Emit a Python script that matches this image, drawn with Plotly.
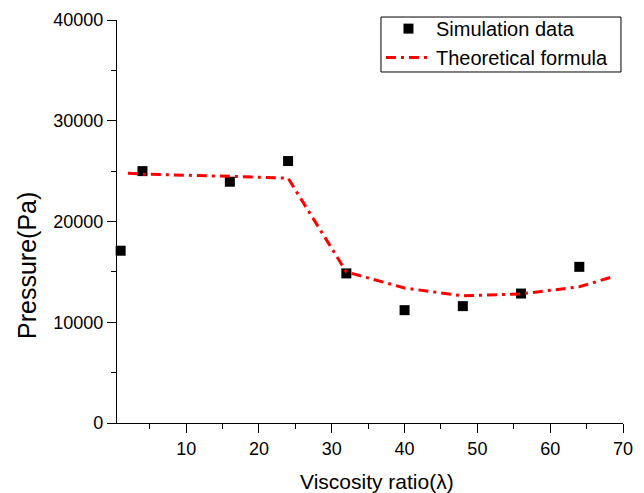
import plotly.graph_objects as go

# Simulation data
sim_lambda = [1, 4, 16, 24, 32, 40, 48, 56, 64]
sim_pressure = [17100, 25000, 23950, 26000, 14850, 11200, 11600, 12850, 15500]

# Theoretical formula
theo_lambda = [2, 4, 16, 24, 32, 40, 48, 56, 64, 68.3]
theo_pressure = [24800, 24700, 24480, 24300, 15000, 13400, 12620, 12820, 13520, 14450]

x_ticks = [10, 20, 30, 40, 50, 60, 70]
y_ticks = [0, 10000, 20000, 30000, 40000]

x_title = "Viscosity ratio(λ)"
y_title = "Pressure(Pa)"

FONT = "Arial, 'Liberation Sans', sans-serif"

fig = go.Figure()
fig.add_trace(go.Scatter(
    x=sim_lambda, y=sim_pressure, mode="markers", name="Simulation data",
    marker=dict(symbol="square", size=10, color="black", line=dict(width=0)),
    cliponaxis=False,
))
fig.add_trace(go.Scatter(
    x=theo_lambda, y=theo_pressure, mode="lines", name="Theoretical formula",
    line=dict(color="#ff0000", width=3, dash="10px,5px,3px,5px"),
))

axis_common = dict(
    showline=True, linecolor="black", linewidth=1.3,
    ticks="outside", ticklen=9, tickwidth=1.3, tickcolor="black",
    showgrid=False, zeroline=False, mirror=False,
    tickfont=dict(family=FONT, size=18, color="black"),
)

fig.update_xaxes(
    range=[0.5, 70], tickvals=x_ticks, tickformat="d",
    minor=dict(dtick=5, tick0=0, ticks="outside", ticklen=5, tickwidth=1.3, tickcolor="black"),
    **axis_common,
)
fig.update_yaxes(
    range=[0, 40000], tickvals=y_ticks, tickformat="d",
    minor=dict(dtick=5000, tick0=0, ticks="outside", ticklen=5, tickwidth=1.3, tickcolor="black"),
    **axis_common,
)

# axis titles (placed like the reference, slightly off-centre)
fig.add_annotation(text=x_title, xref="paper", yref="paper", x=0.514, y=-0.144,
                   xanchor="center", yanchor="middle", showarrow=False,
                   font=dict(family=FONT, size=21, color="black"))
fig.add_annotation(text=y_title, xref="paper", yref="paper", x=-0.178, y=0.392,
                   xanchor="center", yanchor="middle", showarrow=False, textangle=-90,
                   font=dict(family=FONT, size=25, color="black"))

# legend frame
fig.add_shape(type="rect", xref="paper", yref="paper",
              x0=0.5217, x1=0.996, y0=0.871, y1=1.0074,
              line=dict(color="black", width=1), fillcolor="white", layer="above")

# page body has an 8px margin, so the figure is offset by 8px
fig.update_layout(
    width=636, height=485,
    margin=dict(l=109, r=21, t=12, b=70, autoexpand=False),
    paper_bgcolor="white", plot_bgcolor="white",
    legend=dict(
        x=0.5217, y=1.027, xanchor="left", yanchor="top",
        bgcolor="rgba(0,0,0,0)", borderwidth=0,
        font=dict(family=FONT, size=20, color="black"),
        tracegroupgap=0, itemwidth=45,
    ),
    showlegend=True,
)

fig.write_html("out.html")
